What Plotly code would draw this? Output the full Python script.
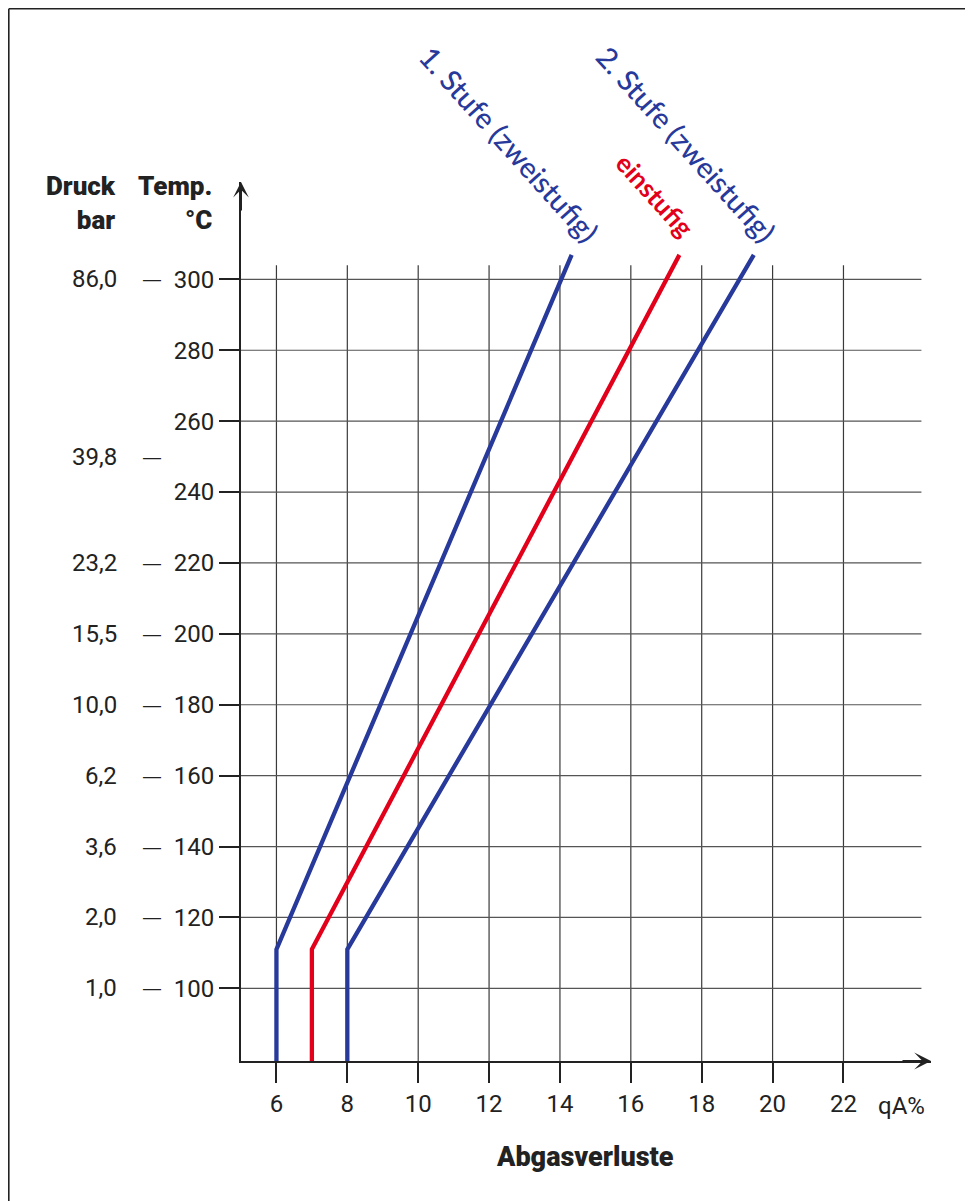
import plotly.graph_objects as go

# ---- data ----
temp_ticks = [100, 120, 140, 160, 180, 200, 220, 240, 260, 280, 300]
x_ticks = [6, 8, 10, 12, 14, 16, 18, 20, 22]
pressure_labels = ["1,0", "2,0", "3,6", "6,2", "10,0", "15,5", "23,2", "39,8", "86,0"]
pressure_temps = [100, 120, 140, 160, 180, 200, 220, 250, 300]

stufe1_x = [6.0, 6.0, 14.33]
stufe1_y = [79.5, 111.0, 306.9]
einstufig_x = [7.0, 7.0, 17.37]
einstufig_y = [79.5, 111.0, 306.9]
stufe2_x = [8.0, 8.0, 19.47]
stufe2_y = [79.5, 111.0, 306.9]

BLUE = "#27399a"
RED = "#e2001a"
INK = "#222222"
NUM_FONT = "Roboto"
BOLD_FONT = "Roboto"
LBL_FONT = "Lato"

OFF = 8  # page body margin
X0, X1 = 5.0, 24.47
Y0, Y1 = 79.5, 327.46
L, R, T, B = 241 - OFF, 42, 182 - OFF, 140
W, H = 973 - OFF, 1201 - OFF
PW, PH = W - L - R, H - T - B

def px(xp):
    return (xp - OFF - L) / PW

def py(yp):
    return (H - B - (yp - OFF)) / PH

fig = go.Figure()
for xs, ys, col in [(stufe1_x, stufe1_y, BLUE), (einstufig_x, einstufig_y, RED), (stufe2_x, stufe2_y, BLUE)]:
    fig.add_trace(go.Scatter(x=xs, y=ys, mode="lines", line=dict(color=col, width=4.3),
                             hoverinfo="skip", showlegend=False, cliponaxis=False))

shapes = []
for xv in x_ticks:
    shapes.append(dict(type="line", xref="x", yref="y", x0=xv, x1=xv, y0=Y0, y1=304,
                       line=dict(color="#3a3a3a", width=1.2), layer="below"))
for yv in temp_ticks:
    shapes.append(dict(type="line", xref="x", yref="y", x0=X0, x1=24.2, y0=yv, y1=yv,
                       line=dict(color="#555555", width=1.2), layer="below"))
# frame (top + left)
shapes.append(dict(type="line", xref="paper", yref="paper", x0=px(8.8), x1=px(973), y0=py(8.8), y1=py(8.8),
                   line=dict(color=INK, width=1.6)))
shapes.append(dict(type="line", xref="paper", yref="paper", x0=px(8.8), x1=px(8.8), y0=py(8.8), y1=py(1201),
                   line=dict(color=INK, width=1.6)))

annotations = []
# axis arrowheads
annotations.append(dict(x=X0, y=Y1, xref="x", yref="y", ax=0, ay=30, axref="pixel", ayref="pixel",
                        showarrow=True, arrowhead=3, arrowsize=1.3, arrowwidth=2, arrowcolor=INK, text="", standoff=0))
annotations.append(dict(x=X1, y=Y0, xref="x", yref="y", ax=-30, ay=0, axref="pixel", ayref="pixel",
                        showarrow=True, arrowhead=3, arrowsize=1.4, arrowwidth=2, arrowcolor=INK, text="", standoff=0))
# pressure labels + dashes
for lab, t in zip(pressure_labels, pressure_temps):
    annotations.append(dict(x=px(119), y=t, xref="paper", yref="y", text=lab, showarrow=False,
                            xanchor="right", yanchor="middle", font=dict(family=NUM_FONT, size=24, color=INK)))
    annotations.append(dict(x=px(152), y=t, xref="paper", yref="y", text="—", showarrow=False,
                            xanchor="center", yanchor="middle", font=dict(family="DejaVu Sans", size=20, color=INK)))
# headers
annotations.append(dict(x=px(118), y=py(203), xref="paper", yref="paper", text="Druck<br>bar",
                        showarrow=False, xanchor="right", yanchor="middle", align="right",
                        font=dict(family=BOLD_FONT, size=26, color=INK, weight=900)))
annotations.append(dict(x=px(214), y=py(203), xref="paper", yref="paper", text="Temp.<br>°C",
                        showarrow=False, xanchor="right", yanchor="middle", align="right",
                        font=dict(family=BOLD_FONT, size=26, color=INK, weight=900)))
# unit + axis title
annotations.append(dict(x=px(901), y=py(1106), xref="paper", yref="paper", text="qA%", showarrow=False,
                        xanchor="center", yanchor="middle", font=dict(family=NUM_FONT, size=24, color=INK)))
annotations.append(dict(x=px(585), y=py(1157), xref="paper", yref="paper", text="Abgasverluste",
                        showarrow=False, xanchor="center", yanchor="middle",
                        font=dict(family=BOLD_FONT, size=27, color=INK, weight=900)))
# rotated series labels
annotations.append(dict(x=px(509), y=py(144), xref="paper", yref="paper", text="1. Stufe (zweistufig)",
                        textangle=48, showarrow=False, xanchor="center", yanchor="middle",
                        font=dict(family=LBL_FONT, size=29, color=BLUE, weight=500)))
annotations.append(dict(x=px(686), y=py(144), xref="paper", yref="paper", text="2. Stufe (zweistufig)",
                        textangle=48, showarrow=False, xanchor="center", yanchor="middle",
                        font=dict(family=LBL_FONT, size=29, color=BLUE, weight=500)))
annotations.append(dict(x=px(655), y=py(195), xref="paper", yref="paper", text="einstufig",
                        textangle=48, showarrow=False, xanchor="center", yanchor="middle",
                        font=dict(family=LBL_FONT, size=26, color=RED, weight=700)))

fig.update_layout(
    width=W, height=H, margin=dict(l=L, r=R, t=T, b=B, autoexpand=False),
    paper_bgcolor="white", plot_bgcolor="white", showlegend=False,
    xaxis=dict(range=[X0, X1], showgrid=False, zeroline=False, showline=True, linecolor=INK, linewidth=2,
               tickmode="array", tickvals=x_ticks, ticktext=[str(v) for v in x_ticks],
               ticks="outside", ticklen=20, tickwidth=2, tickcolor=INK,
               tickfont=dict(family=NUM_FONT, size=24, color=INK), fixedrange=True),
    yaxis=dict(range=[Y0, Y1], showgrid=False, zeroline=False, showline=True, linecolor=INK, linewidth=2,
               tickmode="array", tickvals=temp_ticks, ticktext=[str(v) for v in temp_ticks],
               ticks="outside", ticklen=20, tickwidth=2, tickcolor=INK,
               tickfont=dict(family=NUM_FONT, size=24, color=INK), fixedrange=True),
    shapes=shapes, annotations=annotations,
)

fig.write_html("out.html", config={"displayModeBar": False})
